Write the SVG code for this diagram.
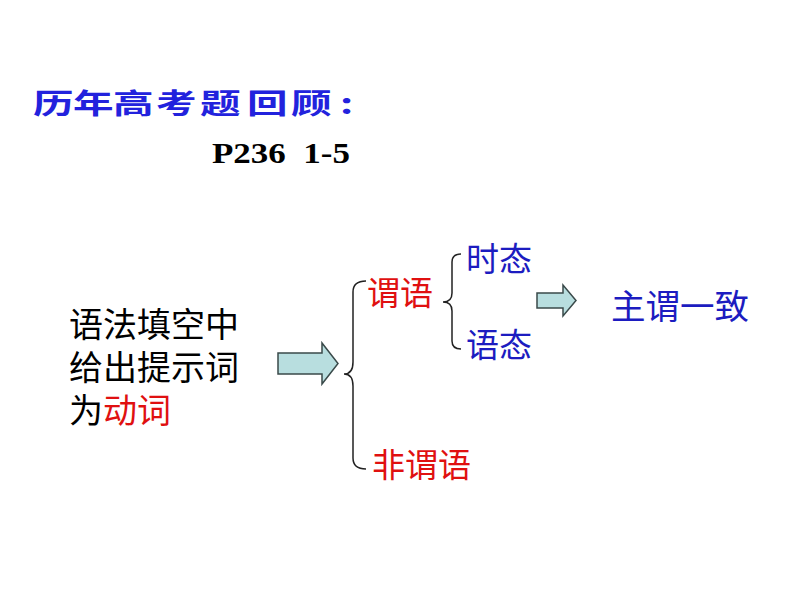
<svg xmlns="http://www.w3.org/2000/svg" width="794" height="596" viewBox="0 0 794 596">
<style>
.cjk{font-family:"Noto Sans CJK SC","Noto Sans",sans-serif;font-size:33px}
.blue{fill:#1c1cc0}
.red{fill:#e01010}
.black{fill:#000}
.ttl{font-family:"Noto Sans CJK SC",sans-serif;font-size:28px;font-weight:bold;fill:#2222dd}
.arrow{fill:#b8dedf;stroke:#3a4a4a;stroke-width:1.5}
.brace{fill:none;stroke:#222;stroke-width:1.5}
</style>
<rect width="794" height="596" fill="#fff"/>
<g id="title">
<text class="ttl" transform="matrix(1.45 0 0 1 33 114)">历</text>
<text class="ttl" transform="matrix(1.45 0 0 1 73 114)">年</text>
<text class="ttl" transform="matrix(1.45 0 0 1 113 114)">高</text>
<text class="ttl" transform="matrix(1.45 0 0 1 156 114)">考</text>
<text class="ttl" transform="matrix(1.45 0 0 1 200 114)">题</text>
<text class="ttl" transform="matrix(1.45 0 0 1 247 114)">回</text>
<text class="ttl" transform="matrix(1.45 0 0 1 291 114)">顾</text>
<text class="ttl" transform="matrix(1.45 0 0 1 340 114)">:</text>
</g>
<g id="page">
<text x="212" y="163" font-family="Liberation Serif,serif" font-size="30" font-weight="bold" fill="#000" textLength="138" lengthAdjust="spacingAndGlyphs" xml:space="preserve">P236  1-5</text>
</g>
<g id="source">
<text class="cjk black" x="69" y="337" style="font-size:34px">语法填空中</text>
<text class="cjk black" x="69" y="380" style="font-size:34px">给出提示词</text>
<text class="cjk" x="69" y="423" style="font-size:34px"><tspan class="black">为</tspan><tspan class="red">动词</tspan></text>
</g>
<g id="weiyu"><text class="cjk red" x="367" y="305">谓语</text></g>
<g id="shitai"><text class="cjk blue" x="466" y="271">时态</text></g>
<g id="yutai"><text class="cjk blue" x="466" y="357">语态</text></g>
<g id="feiweiyu"><text class="cjk red" x="372" y="477">非谓语</text></g>
<g id="zhuwei"><text class="cjk blue" x="611" y="319" style="font-size:34.5px">主谓一致</text></g>
<g id="connectors">
<path class="arrow" d="M278 353 H322 V343 L338 363.5 L322 384 V374 H278 Z"/>
<path class="arrow" d="M537 293 H563 V285 L576 300.5 L563 316 V308 H537 Z"/>
<path class="brace" d="M366 281 Q353 281 353 292 V362 Q353 374 344 374 Q353 374 353 386 V458 Q353 469 366 469"/>
<path class="brace" d="M461 254 Q452 254 452 262 V293 Q452 302 443 302 Q452 302 452 311 V341 Q452 349 461 349"/>
</g>
</svg>
